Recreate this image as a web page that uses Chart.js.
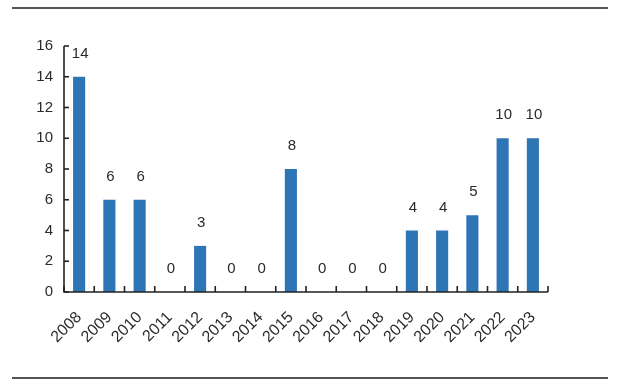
<!DOCTYPE html>
<html><head><meta charset="utf-8">
<script src="https://cdn.jsdelivr.net/npm/chart.js@4"></script>
<style>html,body{margin:0;padding:0;background:#fff}#wrap{width:640px;height:390px;position:relative}</style>
</head><body><div id="wrap"><canvas id="c" width="640" height="390"></canvas></div>
<script>
const years = ['2008','2009','2010','2011','2012','2013','2014','2015','2016','2017','2018','2019','2020','2021','2022','2023'];
const counts = [14,6,6,0,3,0,0,8,0,0,0,4,4,5,10,10];
const yTicks = [0,2,4,6,8,10,12,14,16];

const FAM = '"Liberation Sans", Arial, sans-serif';
const FONT = {family:FAM, size:15};
const XFONT = {family:FAM, size:16};
const TXT = '#2a2a2a';

const decor = {
  id:'decor',
  afterDatasetsDraw(chart){
    const ctx = chart.ctx, x = chart.scales.x, y = chart.scales.y, a = chart.chartArea;
    ctx.save();
    ctx.strokeStyle = '#555'; ctx.lineWidth = 2;
    ctx.beginPath(); ctx.moveTo(12,8); ctx.lineTo(608,8); ctx.stroke();
    ctx.beginPath(); ctx.moveTo(12,378); ctx.lineTo(608,378); ctx.stroke();
    ctx.strokeStyle = '#222'; ctx.lineWidth = 1.6;
    ctx.beginPath(); ctx.moveTo(a.left, y.getPixelForValue(16)); ctx.lineTo(a.left, y.getPixelForValue(0)); ctx.lineTo(x.getPixelForValue(years.length-0.5), y.getPixelForValue(0)); ctx.stroke();
    yTicks.forEach(v=>{ const py = y.getPixelForValue(v); ctx.beginPath(); ctx.moveTo(a.left,py); ctx.lineTo(a.left+5,py); ctx.stroke(); });
    for(let i=0;i<=years.length;i++){ const px = x.getPixelForValue(i-0.5); const py=y.getPixelForValue(0); ctx.beginPath(); ctx.moveTo(px,py); ctx.lineTo(px,py-6); ctx.stroke(); }
    ctx.fillStyle = TXT; ctx.font = `${FONT.size}px ${FONT.family}`; ctx.textAlign='center'; ctx.textBaseline='middle';
    const meta = chart.getDatasetMeta(0);
    meta.data.forEach((bar,i)=>{ const v = counts[i]; let py = y.getPixelForValue(v) - 23; if (py < 49) py = 49; ctx.fillText(String(v), bar.x + 1, py); });
    ctx.restore();
  }
};

new Chart(document.getElementById('c'), {
  type:'bar',
  data:{labels:years, datasets:[{data:counts, backgroundColor:'#2e75b6', barPercentage:0.4, categoryPercentage:1}]},
  options:{
    responsive:false, animation:false,
    layout:{padding:{left:0, top:46, right:92, bottom:0}},
    plugins:{legend:{display:false}, tooltip:{enabled:false}},
    scales:{
      x:{ grid:{display:false, drawTicks:false}, border:{display:false},
          ticks:{color:TXT, font:XFONT, maxRotation:45, minRotation:45, padding:16, autoSkip:false},
          afterFit(s){ s.height = 98; } },
      y:{ min:0, max:16, grid:{display:false, drawTicks:false}, border:{display:false},
          ticks:{color:TXT, font:FONT, stepSize:2, padding:11},
          afterFit(s){ s.width = 64; } }
    }
  },
  plugins:[decor]
});
</script></body></html>
